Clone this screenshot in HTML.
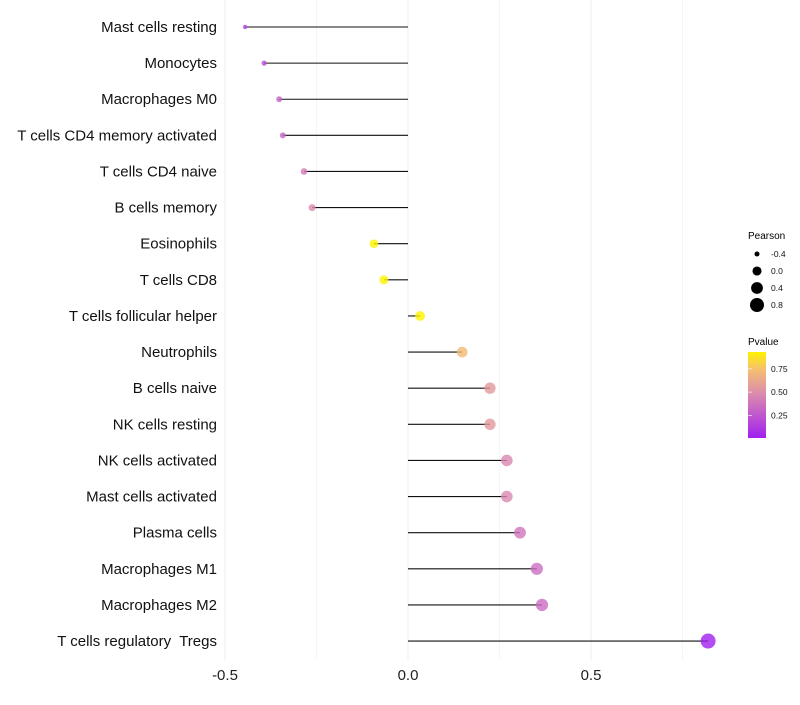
<!DOCTYPE html>
<html><head><meta charset="utf-8"><style>
body{margin:0;background:#fff;font-family:"Liberation Sans",sans-serif}
svg text{font-family:"Liberation Sans",sans-serif;white-space:pre}
</style></head><body>
<svg id="chart" width="800" height="700" xmlns="http://www.w3.org/2000/svg">
<g id="grid"></g>
<g id="marks"></g>
<g id="ylab"></g>
<g id="xlab"></g>
<g id="legend-size">
<text x="748" y="239" font-size="10" fill="#000">Pearson</text>
</g>
<g id="legend-color">
<defs><linearGradient id="pg" x1="0" y1="1" x2="0" y2="0">
<stop offset="0" stop-color="#A020F0"/><stop offset="0.5" stop-color="#DA88B0"/><stop offset="0.8" stop-color="#F5C070"/><stop offset="1" stop-color="#FFF200"/></linearGradient></defs>
<text x="748" y="345" font-size="10" fill="#000">Pvalue</text>
<rect x="748" y="352" width="18" height="86" fill="url(#pg)"/>
</g>
</svg>
<script>
const categories=["Mast cells resting","Monocytes","Macrophages M0","T cells CD4 memory activated","T cells CD4 naive","B cells memory","Eosinophils","T cells CD8","T cells follicular helper","Neutrophils","B cells naive","NK cells resting","NK cells activated","Mast cells activated","Plasma cells","Macrophages M1","Macrophages M2","T cells regulatory  Tregs"];
const pearson=[-0.445,-0.393,-0.352,-0.342,-0.284,-0.262,-0.093,-0.066,0.033,0.148,0.224,0.224,0.270,0.270,0.306,0.352,0.366,0.820];
const pvalue=[0.15,0.22,0.30,0.32,0.42,0.48,0.93,0.96,0.99,0.72,0.56,0.56,0.47,0.47,0.40,0.36,0.35,0.02];
const xTicks=[-0.5,0,0.5];
const xTickLabels=["-0.5","0.0","0.5"];
const sizeLegendVals=[-0.4,0.0,0.4,0.8];
const colorLegendVals=[0.25,0.5,0.75];
const NS="http://www.w3.org/2000/svg";
const x=v=>408+v*366;
const y=i=>27+i*36.12;
const r=v=>Math.sqrt(Math.max(3,22.9+40.6*v));
const rl=v=>Math.sqrt(Math.max(3,20.5+35.6*v));
const pY=p=>437-(p-0.02)/(0.93-0.02)*85;
function lerp(a,b,t){return a.map((c,k)=>Math.round(c+(b[k]-c)*t));}
function col(p){const st=[[0,[160,32,240]],[0.5,[218,136,176]],[0.8,[245,192,112]],[1,[255,242,0]]];
 const q=Math.min(1,Math.max(0,(p-0.02)/0.91));
 for(let k=1;k<st.length;k++){if(q<=st[k][0]){const t=(q-st[k-1][0])/(st[k][0]-st[k-1][0]);return "rgb("+lerp(st[k-1][1],st[k][1],t).join(",")+")";}}
 return "rgb(255,242,0)";}
function mk(tag,at,parent){const e=document.createElementNS(NS,tag);for(const k in at)e.setAttribute(k,at[k]);parent.appendChild(e);return e;}
const grid=document.getElementById('grid'),marks=document.getElementById('marks'),ylab=document.getElementById('ylab'),xlab=document.getElementById('xlab');
[-0.5,-0.25,0,0.25,0.5,0.75].forEach((v,i)=>{const g=mk('line',{x1:x(v),x2:x(v),y1:0,y2:660,stroke:i%2?'#f5f5f5':'#ededed','stroke-width':1},grid);

});
categories.forEach((c,i)=>{
 const l=mk('line',{x1:x(0),x2:x(pearson[i]),y1:y(i),y2:y(i),stroke:'#111','stroke-width':1.1},marks);
 
 
 const p=mk('circle',{cx:x(pearson[i]),cy:y(i),r:r(pearson[i]),fill:col(pvalue[i]),'fill-opacity':0.8},marks);
 
 
 const t=mk('text',{x:217,y:y(i)+5,'text-anchor':'end','font-size':15,fill:'#111'},ylab);t.textContent=c;
 
 
});
xTicks.forEach((v,i)=>{const t=mk('text',{x:x(v),y:680,'text-anchor':'middle','font-size':15,fill:'#222'},xlab);t.textContent=xTickLabels[i];
 
 });
const ls=document.getElementById('legend-size');
sizeLegendVals.forEach((v,i)=>{const c=mk('circle',{cx:757,cy:254+i*17,r:rl(v),fill:'#000'},ls);
 
 
 const t=mk('text',{x:771,y:257+i*17,'font-size':8.5,fill:'#111'},ls);t.textContent=v.toFixed(1);
 
 });
const lc=document.getElementById('legend-color');
colorLegendVals.forEach(v=>{const yy=pY(v);
 const tk=mk('line',{x1:748,x2:752,y1:yy,y2:yy,stroke:'#fff','stroke-opacity':0.6},lc);
 
 
 const t=mk('text',{x:771,y:yy+3,'font-size':8.5,fill:'#111'},lc);t.textContent=v.toFixed(2);
 
 });
</script>
</body></html>
